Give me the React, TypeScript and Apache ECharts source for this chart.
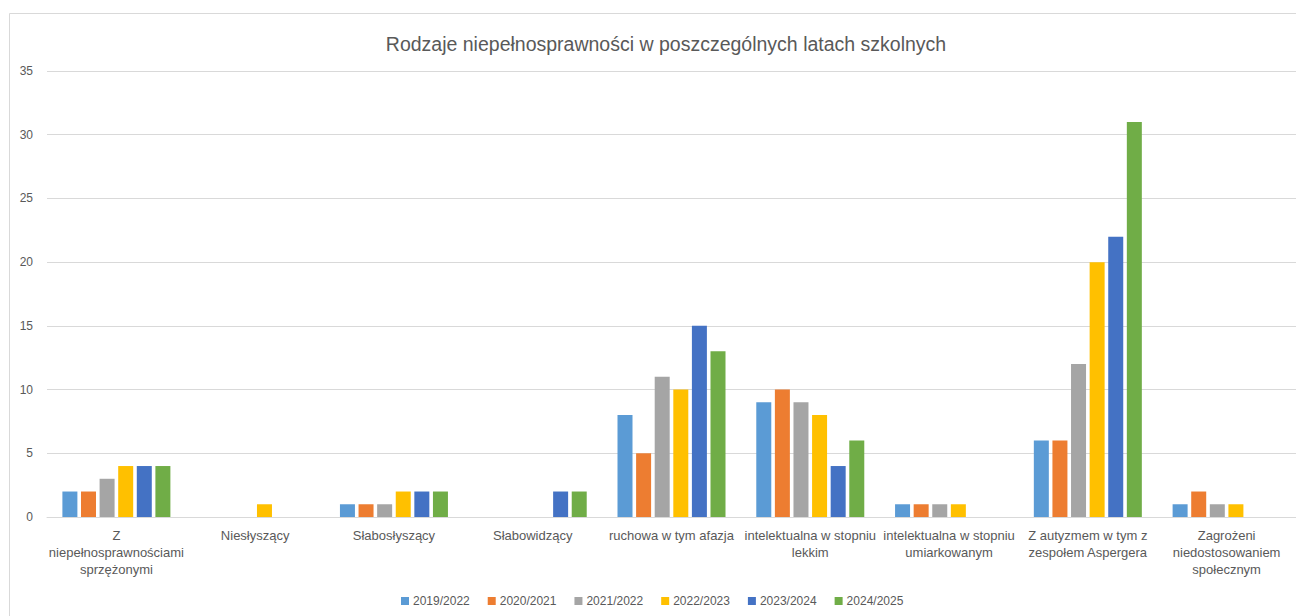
import React, { useEffect, useRef } from "react";
import * as echarts from "echarts";

const categories = [
  "Z\nniepełnosprawnościami\nsprzężonymi",
  "Niesłyszący",
  "Słabosłyszący",
  "Słabowidzący",
  "ruchowa w tym afazja",
  "intelektualna w stopniu\nlekkim",
  "intelektualna w stopniu\numiarkowanym",
  "Z autyzmem w tym z\nzespołem Aspergera",
  "Zagrożeni\nniedostosowaniem\nspołecznym",
];

const seriesNames = ["2019/2022", "2020/2021", "2021/2022", "2022/2023", "2023/2024", "2024/2025"];
const colors = ["#5B9BD5", "#ED7D31", "#A5A5A5", "#FFC000", "#4472C4", "#70AD47"];

const s2019 = [2, null, 1, null, 8, 9, 1, 6, 1];
const s2020 = [2, null, 1, null, 5, 10, 1, 6, 2];
const s2021 = [3, null, 1, null, 11, 9, 1, 12, 1];
const s2022 = [4, 1, 2, null, 10, 8, 1, 20, 1];
const s2023 = [4, null, 2, 2, 15, 4, null, 22, null];
const s2024 = [4, null, 2, 2, 13, 6, null, 31, null];

const seriesData = [s2019, s2020, s2021, s2022, s2023, s2024];

export default function App() {
  const ref = useRef<HTMLDivElement>(null);
  useEffect(() => {
    if (!ref.current) return;
    const chart = echarts.init(ref.current, undefined, { renderer: "svg" });
    const font = "Liberation Sans, Arial, sans-serif";
    chart.setOption({
      animation: false,
      backgroundColor: "#ffffff",
      color: colors,
      title: {
        text: "Rodzaje niepełnosprawności w poszczególnych latach szkolnych",
        left: 661,
        textAlign: "center",
        top: 29,
        textStyle: { color: "#595959", fontSize: 19.5, fontWeight: "normal", fontFamily: font },
      },
      graphic: [
        {
          type: "rect",
          shape: { x: 9.5, y: 13.5, width: 1300, height: 620 },
          style: { fill: "none", stroke: "#d9d9d9", lineWidth: 1 },
          silent: true,
        },
      ],
      legend: {
        bottom: 4,
        left: 396,
        itemWidth: 8,
        itemHeight: 8,
        itemGap: 18,
        icon: "rect",
        textStyle: { color: "#595959", fontSize: 12, fontFamily: font, padding: [0, 0, 0, -1] },
        data: seriesNames,
      },
      grid: { left: 47, right: 0, top: 71, bottom: 99, containLabel: false },
      xAxis: {
        type: "category",
        data: categories,
        axisLine: { lineStyle: { color: "#d9d9d9" } },
        axisTick: { show: false },
        axisLabel: {
          color: "#595959",
          fontSize: 13,
          fontFamily: font,
          interval: 0,
          lineHeight: 17,
          margin: 10,
        },
      },
      yAxis: {
        type: "value",
        min: 0,
        max: 35,
        interval: 5,
        axisLine: { show: false },
        axisTick: { show: false },
        splitLine: { lineStyle: { color: "#d9d9d9" } },
        axisLabel: { color: "#595959", fontSize: 12, fontFamily: font, margin: 14 },
      },
      series: seriesNames.map((name, i) => ({
        name,
        type: "bar",
        data: seriesData[i],
        barWidth: 15,
        barGap: "24%",
        itemStyle: { color: colors[i] },
      })),
    });
    return () => chart.dispose();
  }, []);
  return (
    <div
      ref={ref}
      style={{ position: "fixed", left: 0, top: 0, width: 1296, height: 616 }}
    />
  );
}
